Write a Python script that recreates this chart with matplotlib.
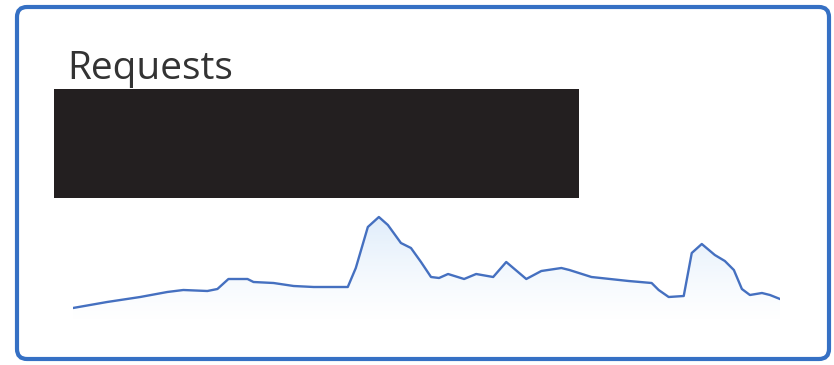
import matplotlib
matplotlib.use("Agg")
import matplotlib.pyplot as plt
import numpy as np
from matplotlib.patches import FancyBboxPatch, Rectangle, Polygon
from matplotlib.colors import LinearSegmentedColormap

# ---- data (time index, requests) ----
t = [0, 34, 67, 94, 110, 134, 144, 155, 174, 180, 200, 220, 240, 274, 282,
     294, 305, 314, 327, 337, 347, 357, 365, 374, 390, 402, 419, 432, 452,
     467, 487, 495, 517, 554, 577, 584, 594, 609, 617, 627, 640, 650, 659,
     667, 675, 687, 695, 705]
requests = [12, 18, 23, 28, 30, 29, 31, 41, 41, 38, 37, 34, 33, 33, 52,
            93, 103, 95, 77, 72, 58, 43, 42, 46, 41, 46, 43, 58, 41, 49,
            52, 50, 43, 39, 37, 30, 23, 24, 67, 76, 65, 59, 50, 31, 25,
            27, 25, 21]
title = "Requests"

W, H = 834, 365
fig = plt.figure(figsize=(W / 100, H / 100), dpi=100)
bg = fig.add_axes([0, 0, 1, 1])
bg.set_xlim(0, W)
bg.set_ylim(H, 0)
bg.axis("off")

card = FancyBboxPatch((17, 7), 812, 352, boxstyle="round,pad=0,rounding_size=10",
                      facecolor="white", edgecolor="#3570c4", linewidth=3.0)
bg.add_patch(card)
bg.text(67, 79, title, fontsize=28, color="#333333", family="Open Sans",
        va="baseline", ha="left")
bg.add_patch(Rectangle((54, 89), 525, 109, facecolor="#231f20", edgecolor="none"))

# sparkline
ax = fig.add_axes([73 / W, (H - 320) / H, (780 - 73) / W, 110 / H])
ax.set_xlim(min(t), max(t))
ax.set_ylim(0, 110)
ax.axis("off")

x = np.array(t, float)
y = np.array(requests, float)
grad = np.linspace(0, 1, 256).reshape(-1, 1)
cmap = LinearSegmentedColormap.from_list("g", [(0.85, 0.92, 0.98, 0.0), (0.78, 0.87, 0.97, 0.55)])
im = ax.imshow(grad, extent=[x.min(), x.max(), 0, y.max()], origin="lower",
               aspect="auto", cmap=cmap, zorder=1)
poly = Polygon(np.column_stack([np.r_[x[0], x, x[-1]], np.r_[0, y, 0]]),
               closed=True, facecolor="none", edgecolor="none")
ax.add_patch(poly)
im.set_clip_path(poly)
ax.plot(x, y, color="#4570c0", linewidth=1.7, zorder=2, solid_joinstyle="round")

fig.savefig("out.png", dpi=100)
